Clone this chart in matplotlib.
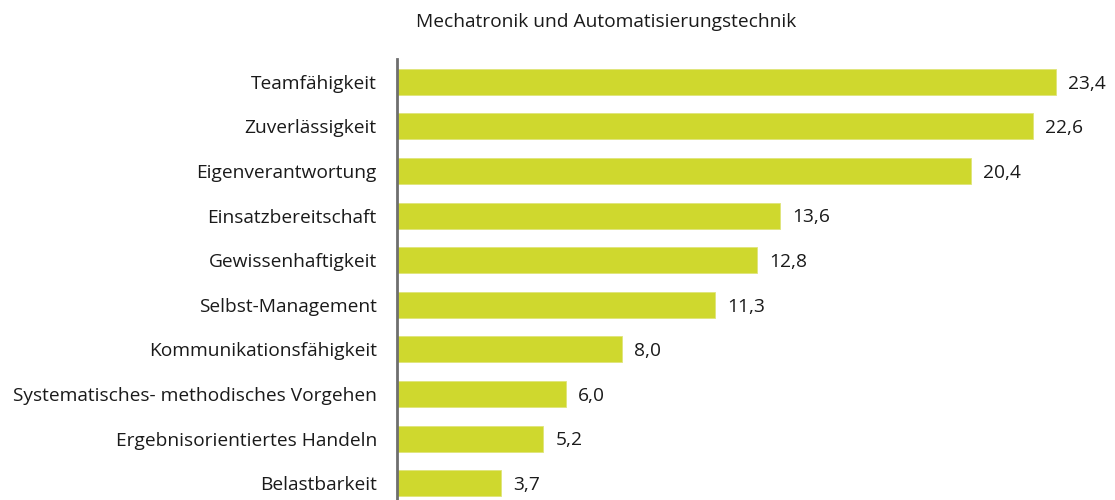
import matplotlib
matplotlib.use("Agg")
import matplotlib.pyplot as plt

categories = ["Teamfähigkeit", "Zuverlässigkeit", "Eigenverantwortung", "Einsatzbereitschaft",
              "Gewissenhaftigkeit", "Selbst-Management", "Kommunikationsfähigkeit",
              "Systematisches- methodisches Vorgehen", "Ergebnisorientiertes Handeln", "Belastbarkeit"]
values = [23.4, 22.6, 20.4, 13.6, 12.8, 11.3, 8.0, 6.0, 5.2, 3.7]
title = "Mechatronik und Automatisierungstechnik"

plt.rcParams['font.family'] = ['Open Sans', 'DejaVu Sans']
W, H = 1115, 500
fig = plt.figure(figsize=(W/100, H/100), dpi=100)
left = 397 / W
top_px, bot_px = 59.5, 505.5
ax = fig.add_axes([left, 1 - bot_px / H, 1 - left, (bot_px - top_px) / H])

fs = 13.8
color = "#cfd82e"
y = list(range(len(categories)))
ax.barh(y, values, height=0.58, color=color, edgecolor="#dfe47a", linewidth=0.6)
ax.set_ylim(len(categories) - 0.5, -0.5)
ax.set_xlim(0, (W - 397) / 28.16)
ax.set_yticks(y)
ax.set_yticklabels(categories, fontsize=fs, color="#1a1a1a")
ax.tick_params(axis='y', length=0, pad=14.5)
ax.set_xticks([])
for s in ["top", "right", "bottom"]:
    ax.spines[s].set_visible(False)
ax.spines["left"].set_color("#6e6e6e")
ax.spines["left"].set_linewidth(2)

for yi, v in zip(y, values):
    ax.text(v + 0.42, yi + 0.04, f"{v:.1f}".replace(".", ","), va="center", ha="left",
            fontsize=fs, color="#1a1a1a")

fig.text(606 / W, 1 - 22 / H, title, ha="center", va="center", fontsize=fs, color="#1a1a1a")
fig.savefig("out.png", dpi=100)
